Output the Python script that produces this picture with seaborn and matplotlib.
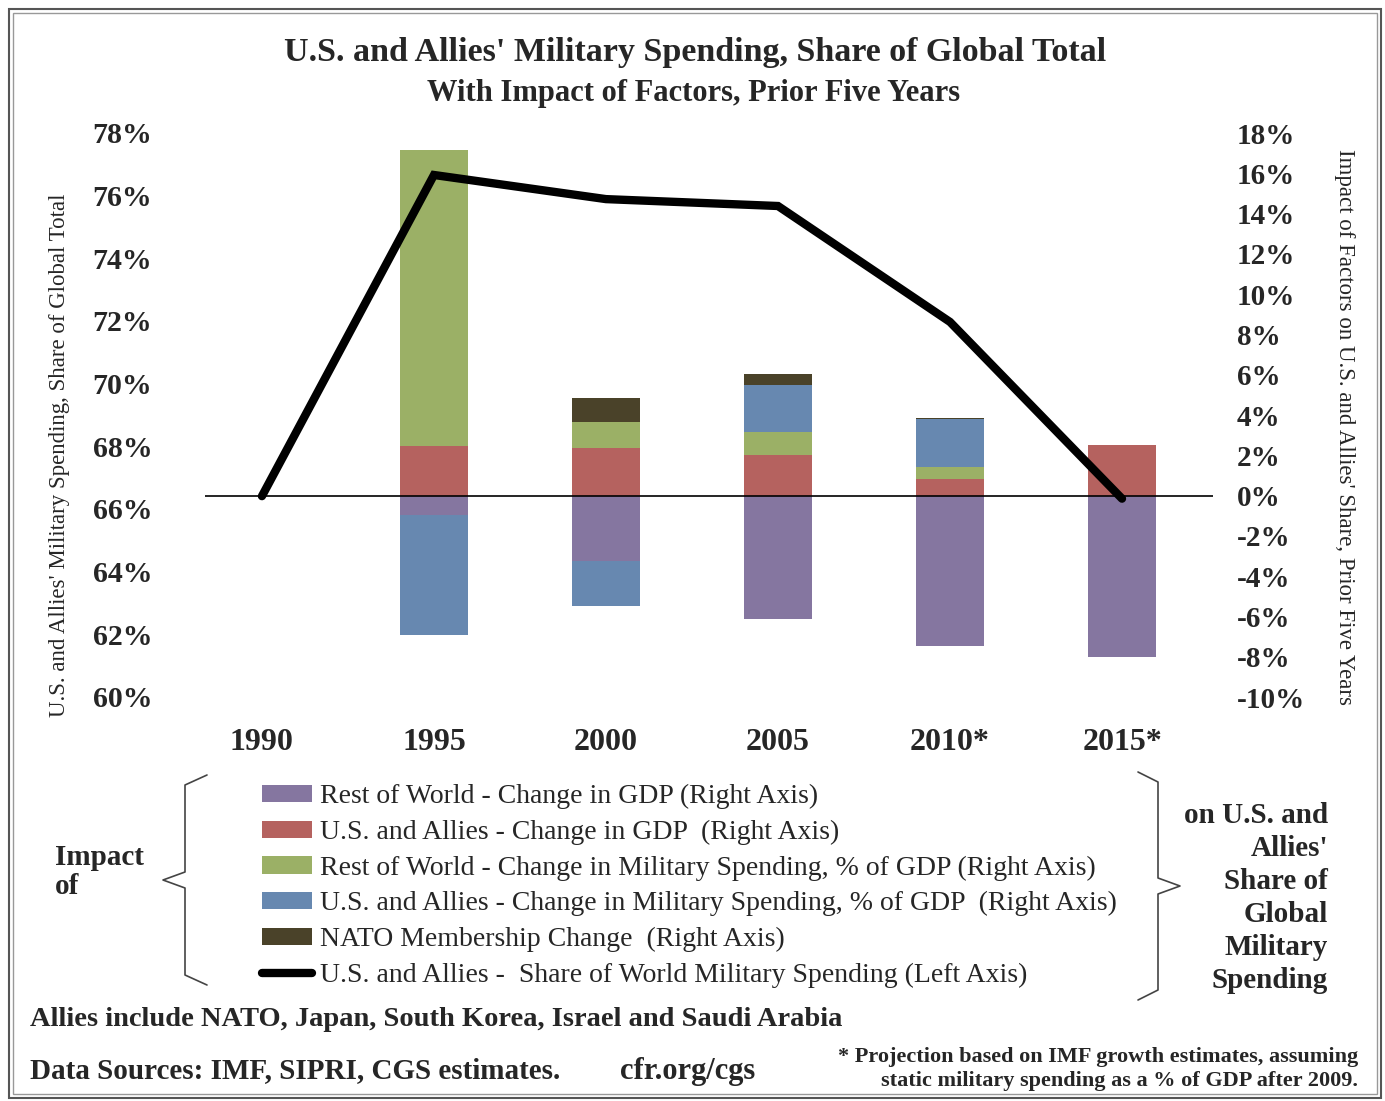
import numpy as np
import pandas as pd
import matplotlib
matplotlib.use("Agg")
import matplotlib.pyplot as plt
import seaborn as sns
from matplotlib.patches import Patch, Rectangle
from matplotlib.lines import Line2D

# ---------------- data ----------------
years = ["1990", "1995", "2000", "2005", "2010*", "2015*"]
row_gdp = [0.0, -0.98, -3.26, -6.11, -7.48, -8.03]      # Rest of World - Change in GDP
us_gdp = [0.0, 2.45, 2.37, 1.99, 0.84, 2.52]            # U.S. and Allies - Change in GDP
row_mil = [0.0, 14.70, 1.27, 1.18, 0.56, 0.0]           # Rest of World - Change in Mil. Spending
us_mil = [0.0, -5.92, -2.23, 2.30, 2.40, 0.0]           # U.S. and Allies - Change in Mil. Spending
nato = [0.0, 0.0, 1.21, 0.55, 0.05, 0.0]                # NATO Membership Change
share = [66.41, 76.66, 75.89, 75.67, 71.97, 66.33]      # U.S. and Allies share (left axis)

series_names = [
    "Rest of World - Change in GDP (Right Axis)",
    "U.S. and Allies - Change in GDP  (Right Axis)",
    "Rest of World - Change in Military Spending, % of GDP (Right Axis)",
    "U.S. and Allies - Change in Military Spending, % of GDP  (Right Axis)",
    "NATO Membership Change  (Right Axis)",
]
line_name = "U.S. and Allies -  Share of World Military Spending (Left Axis)"
colors = ["#8576A0", "#B5625F", "#9BB066", "#6788B0", "#4A4229"]

left_ticks = list(range(60, 80, 2))
right_ticks = list(range(-10, 20, 2))

# ---------------- style ----------------
sns.set_style("white")
plt.rcParams["font.family"] = ["Liberation Serif", "DejaVu Serif"]

W, H = 1385, 1101
fig = plt.figure(figsize=(W / 100, H / 100), dpi=100)

def fx(px):
    return px / W

def fy(py):
    return 1 - py / H

ax = fig.add_axes([fx(205), fy(697), fx(1213) - fx(205), fy(133) - fy(697)])

# stacked bars: positives and negatives stacked separately (in series order)
all_series = [row_gdp, us_gdp, row_mil, us_mil, nato]
pos_base = np.zeros(len(years))
neg_base = np.zeros(len(years))
for vals, col in zip(all_series, colors):
    v = np.array(vals, dtype=float)
    bottoms = np.where(v >= 0, pos_base, neg_base)
    df = pd.DataFrame({"year": years, "val": v})
    sns.barplot(data=df, x="year", y="val", order=years, color=col, saturation=1,
                width=0.4, errorbar=None, bottom=bottoms, linewidth=0, ax=ax)
    pos_base = pos_base + np.where(v > 0, v, 0)
    neg_base = neg_base + np.where(v < 0, v, 0)

ax.axhline(0, color="black", linewidth=1.2, zorder=3)
ax.set_ylim(-10, 18)
ax.set_xlim(-0.331, 5.529)
ax.set_xlabel("")
ax.set_ylabel("")

ax2 = ax.twinx()
sns.lineplot(x=np.arange(len(years)), y=share, color="black", linewidth=6,
             ax=ax2, solid_joinstyle="miter")
ax2.set_ylim(60, 78)
ax2.set_xlim(-0.331, 5.529)

# right axis ticks (bars) and left axis ticks (line)
ax.yaxis.tick_right()
ax2.yaxis.tick_left()
ax.set_yticks(right_ticks)
ax.set_yticklabels([f"{t}%" for t in right_ticks], fontsize=21, fontweight="bold")
for lab in ax.get_yticklabels():
    lab.set_horizontalalignment("left")
ax2.set_yticks(left_ticks)
ax2.set_yticklabels([f"{t}%" for t in left_ticks], fontsize=21.5, fontweight="bold")
ax.set_xticks(range(len(years)))
ax.set_xticklabels(years, fontsize=23, fontweight="bold")
ax.tick_params(axis="y", length=0, pad=17)
ax.tick_params(axis="x", length=0, pad=22)
ax2.tick_params(axis="y", length=0, pad=38)
ax2.set_ylabel("")
for a in (ax, ax2):
    for s in a.spines.values():
        s.set_visible(False)
ax.patch.set_visible(False)

# ---------------- titles & axis labels ----------------
fig.text(fx(695), fy(52), "U.S. and Allies' Military Spending, Share of Global Total",
         ha="center", va="center", fontsize=24.5, fontweight="bold")
fig.text(fx(694), fy(93), "With Impact of Factors, Prior Five Years",
         ha="center", va="center", fontsize=22, fontweight="bold")
fig.text(fx(60), fy(455), "U.S. and Allies' Military Spending, Share of Global Total",
         ha="center", va="center", rotation=90, fontsize=16.5)
fig.text(fx(1345), fy(427), "Impact of Factors on U.S. and Allies' Share, Prior Five Years",
         ha="center", va="center", rotation=-90, fontsize=16.5)

# ---------------- legend ----------------
handles = [Patch(facecolor=c, edgecolor="none") for c in colors]
handles.append(Line2D([], [], color="black", linewidth=6))
labels = series_names + [line_name]
fig.legend(handles, labels, loc="upper left", bbox_to_anchor=(fx(251), fy(773)),
           frameon=False, fontsize=20, handlelength=1.8, handleheight=0.58,
           handletextpad=0.3, labelspacing=0.38, borderaxespad=0)

# braces
def brace(x, y0, y1, direction=1, tip=20, curl=18):
    ym = (y0 + y1) / 2
    xs = [x + direction * curl, x, x, x - direction * tip, x, x, x + direction * curl]
    ys = [y0, y0 + 10, ym - 8, ym, ym + 8, y1 - 10, y1]
    fig.add_artist(Line2D([fx(v) for v in xs], [fy(v) for v in ys],
                          color="#444444", linewidth=1.2))

brace(185, 775, 985, direction=1, tip=22, curl=22)
brace(1158, 772, 1000, direction=-1, tip=22, curl=20)

fig.text(fx(55), fy(872), "Impact\nof", ha="left", va="center",
         fontsize=21, fontweight="bold", linespacing=1.1)
fig.text(fx(1328), fy(898), "on U.S. and\nAllies'\nShare of\nGlobal\nMilitary\nSpending",
         ha="right", va="center", fontsize=21, fontweight="bold", linespacing=1.28)

# ---------------- footer ----------------
fig.text(fx(30), fy(1020), "Allies include NATO, Japan, South Korea, Israel and Saudi Arabia",
         ha="left", va="center", fontsize=20.5, fontweight="bold")
fig.text(fx(30), fy(1071), "Data Sources: IMF, SIPRI, CGS estimates.",
         ha="left", va="center", fontsize=21, fontweight="bold")
fig.text(fx(620), fy(1071), "cfr.org/cgs", ha="left", va="center",
         fontsize=22, fontweight="bold")
fig.text(fx(1358), fy(1069),
         "* Projection based on IMF growth estimates, assuming\nstatic military spending as a % of GDP after 2009.",
         ha="right", va="center", fontsize=16, fontweight="bold", linespacing=1.32)

# ---------------- border ----------------
fig.add_artist(Rectangle((fx(9), fy(1098)), fx(1381) - fx(9), fy(9) - fy(1098),
                         fill=False, edgecolor="#555555", linewidth=1.5))
fig.add_artist(Rectangle((fx(13), fy(1094)), fx(1377) - fx(13), fy(13) - fy(1094),
                         fill=False, edgecolor="#999999", linewidth=1.0))

fig.savefig("out.png", dpi=100)
